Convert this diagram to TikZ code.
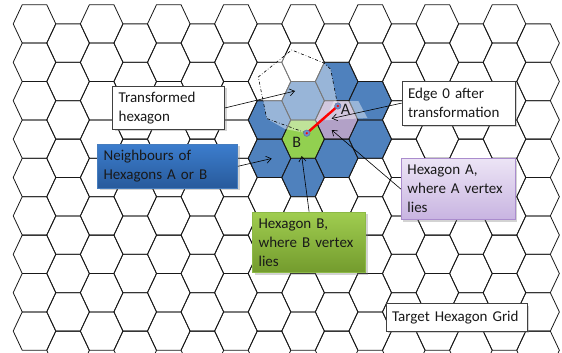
\documentclass[tikz,border=0pt]{standalone}
\usepackage{fontspec}
\setmainfont{Carlito}
\usetikzlibrary{arrows.meta,shadows}

\definecolor{nbblue}{RGB}{79,129,189}
\definecolor{hexgreen}{RGB}{146,208,80}
\definecolor{hexpurple}{RGB}{178,161,199}
\definecolor{txt}{RGB}{25,25,25}
\definecolor{bluetop}{RGB}{60,125,205}
\definecolor{bluebot}{RGB}{40,90,155}
\definecolor{blueedge}{RGB}{70,125,190}
\definecolor{purptop}{RGB}{236,228,245}
\definecolor{purpbot}{RGB}{200,180,225}
\definecolor{purpedge}{RGB}{170,140,205}
\definecolor{greentop}{RGB}{160,205,80}
\definecolor{greenbot}{RGB}{115,155,45}
\definecolor{greenedge}{RGB}{140,185,70}
\definecolor{markfill}{RGB}{110,140,200}
\definecolor{markedge}{RGB}{90,110,160}

\tikzset{
  hexcell/.pic={\path[pic actions] (-21.3,0) -- (-12.27,-19.2) -- (12.27,-19.2)
      -- (21.3,0) -- (12.27,19.2) -- (-12.27,19.2) -- cycle;},
  gridline/.style={draw=black!90, line width=0.8pt},
  lbl/.style={rectangle, anchor=north west, align=left, inner xsep=6pt, inner ysep=3pt,
      font=\fontsize{15}{19}\selectfont, text=txt,
      drop shadow={opacity=0.35, shadow xshift=2pt, shadow yshift=-2pt}},
  whitebox/.style={lbl, fill=white, draw=black!75, line width=0.8pt},
  bluebox/.style={lbl, top color=bluetop, bottom color=bluebot, draw=blueedge, line width=0.6pt},
  purplebox/.style={lbl, top color=purptop, bottom color=purpbot, draw=purpedge, line width=0.8pt},
  greenbox/.style={lbl, top color=greentop, bottom color=greenbot, draw=greenedge, line width=0.6pt},
  pointer/.style={draw=black, line width=0.6pt, -{Straight Barb[length=5pt,width=7pt]}},
  vmark/.style={circle, inner sep=0pt, minimum size=6.5pt, fill=markfill, draw=markedge, line width=0.4pt},
}

\begin{document}
\begin{tikzpicture}[x=1pt, y=-1pt]
\useasboundingbox (0,0) rectangle (562,353);
\begin{scope}
\clip (0,0) rectangle (562,353);

% coloured cells: neighbours, hexagon A, hexagon B
\foreach \c/\r in {7/2,7/3,8/2,8/4,9/1,9/3,10/2,10/3}{
  \pic[fill=nbblue] at ({34.5+33.57*\c},{23.9+38.4*\r+19.2*mod(\c,2)}) {hexcell};
}
\pic[fill=hexpurple] at ({34.5+33.57*9},{23.9+38.4*2+19.2}) {hexcell};
\pic[fill=hexgreen] at ({34.5+33.57*8},{23.9+38.4*3}) {hexcell};

% target hexagon grid
\foreach \c in {0,...,15}{
  \foreach \r in {0,...,8}{
    \pic[gridline] at ({34.5+33.57*\c},{23.9+38.4*\r+19.2*mod(\c,2)}) {hexcell};
  }
}

% transformed hexagon, lightened area
\coordinate (A) at (337.8,106);
\coordinate (B) at (306.8,133.2);
\coordinate (t1) at (330.7,69.3);
\coordinate (t2) at (324,63);
\coordinate (t3) at (291.7,50);
\coordinate (t4) at (258.3,77);
\coordinate (t5) at (266.7,118.5);
\fill[white, opacity=0.42] (B) -- (A) -- (t1) -- (t2) -- (t3) -- (t4) -- (t5) -- (285,129) -- cycle;
\fill[white, opacity=0.42] (324.9,120.3) -- (333.9,101.1) -- (358.4,101.1) -- (367.4,118) -- cycle;
\draw[black, line width=0.6pt, dash dot] (A) -- (t1) -- (t2) -- (t3) -- (t4) -- (t5) -- (B);
\end{scope}

% edge 0
\draw[red, line width=2.4pt] (A) -- (B);
\node[vmark] (mA) at (A) {};
\node[vmark] (mB) at (B) {};
\fill[red] (A) circle (1.2pt) (B) circle (1.2pt);
\node[font=\fontsize{16}{19}\selectfont, text=txt] (la) at (345.5,109.5) {A};
\node[font=\fontsize{16}{19}\selectfont, text=txt] (lb) at (296.7,142.5) {B};

% targets of the pointers
\coordinate (pT) at (295,91);
\coordinate (pE) at (331.7,118.5);
\coordinate (pN) at (271.7,158.5);
\coordinate (pA) at (331.7,130);
\coordinate (pB) at (301.7,156);

% labels
\node[whitebox, text width=100pt, minimum height=43pt] (bT) at (112.3,86) {Transformed\\hexagon};
\node[whitebox, text width=101pt, minimum height=44pt] (bE) at (401.7,80.7) {Edge 0 after\\transformation};
\node[bluebox, text width=128pt, minimum height=44pt] (bN) at (97.3,144) {Neighbours of\\Hexagons A or B};
\node[purplebox, text width=102pt, minimum height=61pt] (bA) at (401,158.3) {Hexagon A,\\where A vertex\\lies};
\node[greenbox, text width=101pt, minimum height=60.6pt] (bB) at (252.3,211.7) {Hexagon B,\\where B vertex\\lies};
\node[whitebox, text width=129pt, minimum height=27.7pt] (bG) at (385.7,303.3) {Target Hexagon Grid};

% pointers
\draw[pointer] (bT.east) -- (pT);
\draw[pointer] (bE.west) -- (pE);
\draw[pointer] (bN.east) -- (pN);
\draw[pointer] (bA.west) -- (pA);
\draw[pointer] (bB.north) -- (pB);
\end{tikzpicture}
\end{document}
